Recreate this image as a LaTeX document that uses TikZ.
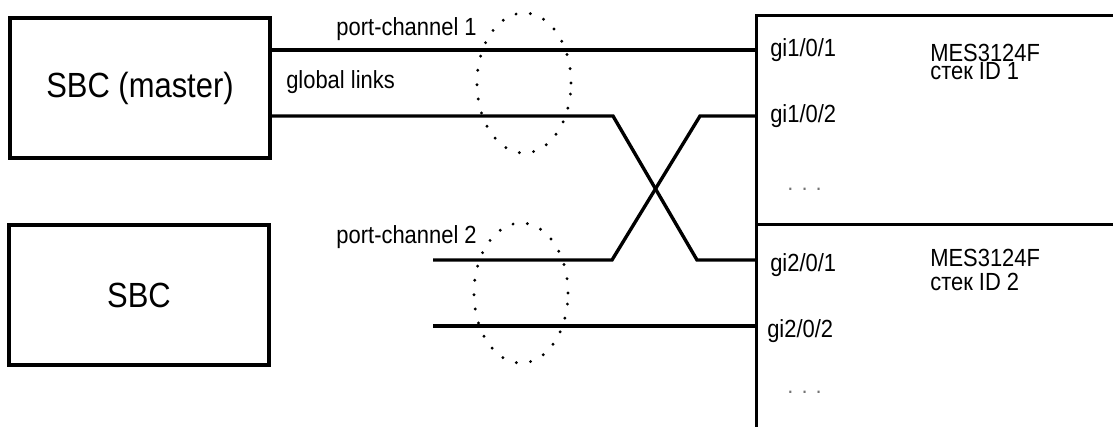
\documentclass[tikz,border=0pt]{standalone}
\usepackage{fontspec}
\setmainfont{Liberation Sans}
\usetikzlibrary{positioning,calc,shapes.geometric}
\newcommand{\tallt}[1]{\scalebox{1}[1.13]{#1}}
\tikzset{
  sbcbox/.style={draw,rectangle,line width=2.4pt,minimum width=6.5cm,minimum height=3.5cm,inner sep=0pt,font=\fontsize{22}{26}\selectfont},
  swbox/.style={draw,rectangle,line width=2.4pt,minimum width=10cm,anchor=north west,inner sep=0pt},
  link/.style={line width=2.4pt},
  lag/.style={draw,ellipse,line width=2.3pt,line cap=round,dash pattern=on 0pt off 0.36cm,minimum width=2.35cm,minimum height=3.5cm},
  lbl/.style={font=\fontsize{15.6}{18}\selectfont,inner sep=0pt},
  portlbl/.style={lbl,anchor=base west},
  moredots/.style={lbl,anchor=base west,text=black!55}
}

\begin{document}
\begin{tikzpicture}[x=0.025cm,y=-0.025cm]
  \useasboundingbox (0,0) rectangle (1113,427);
  \clip (0,0) rectangle (1113,427);

  \node[sbcbox] (master) at (140,88) {\tallt{SBC (master)}};
  \node[sbcbox] (sbc) at (139,295) {\tallt{SBC}};
  \node[swbox,minimum height=5.225cm] (sw1) at (755,14) {};
  \node[swbox,minimum height=6.25cm] (sw2) at (755,223) {};

  \coordinate (g101) at (755,50);
  \coordinate (g102) at (755,116);
  \coordinate (g201) at (755,260);
  \coordinate (g202) at (755,326);
  \coordinate (pc2a) at (433,260);
  \coordinate (pc2b) at (433,326);

  \draw[link] (master.east |- g101) -- (g101);
  \draw[link] (master.east |- g102) -- (613,116) -- (697,260) -- (g201);
  \draw[link] (g102) -- (700,116) -- (612,260) -- (pc2a);
  \draw[link] (pc2b) -- (g202);

  \node[lag] (lag1) at (524,83) {};
  \node[lag] (lag2) at (521,293) {};

  \node[lbl,anchor=base east] (pc1) at (477,36) {\tallt{port-channel 1}};
  \node[lbl,anchor=base west] (glob) at (286,89) {\tallt{global links}};
  \node[lbl,anchor=base east] (pc2) at (477,243) {\tallt{port-channel 2}};

  \node[portlbl] (l101) at (770,57) {\tallt{gi1/0/1}};
  \node[portlbl] (l102) at (770,123) {\tallt{gi1/0/2}};
  \node[moredots] (more1) at (787,190) {. . .};
  \node[portlbl] (name1) at (930,62) {\tallt{MES3124F}};
  \node[portlbl] (id1) at (930,80) {\tallt{стек ID 1}};

  \node[portlbl] (l201) at (770,271) {\tallt{gi2/0/1}};
  \node[portlbl] (l202) at (767,337) {\tallt{gi2/0/2}};
  \node[moredots] (more2) at (787,393) {. . .};
  \node[portlbl] (name2) at (930,266) {\tallt{MES3124F}};
  \node[portlbl] (id2) at (930,290) {\tallt{стек ID 2}};
\end{tikzpicture}
\end{document}
